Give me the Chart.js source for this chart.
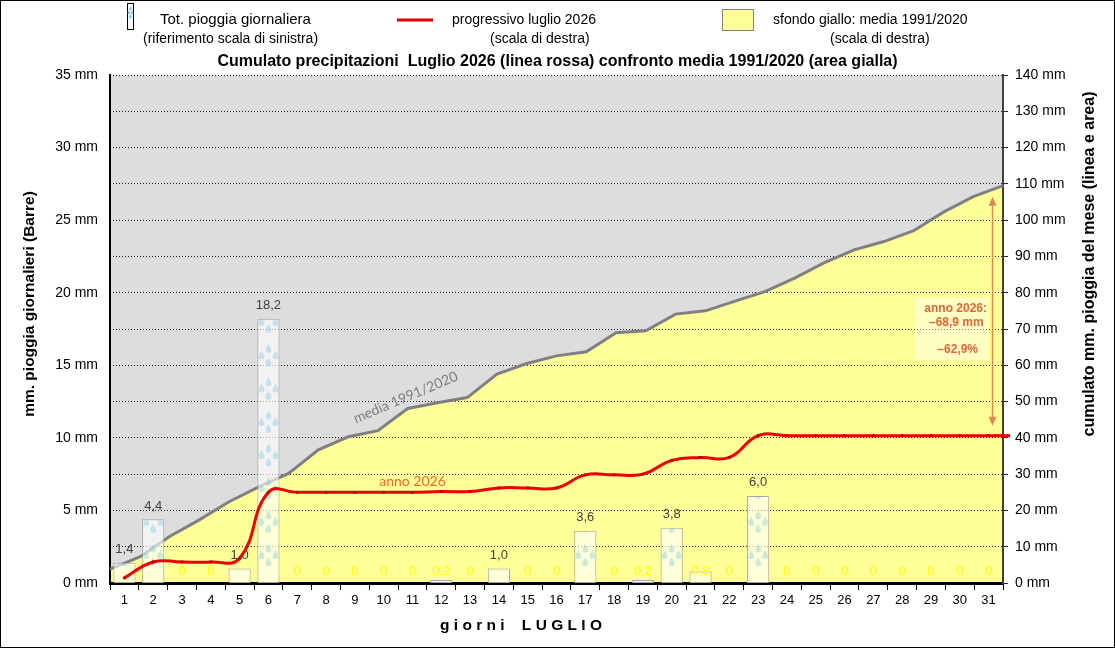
<!DOCTYPE html>
<html>
<head>
<meta charset="utf-8">
<script src="https://cdn.jsdelivr.net/npm/chart.js@4.4.1/dist/chart.umd.min.js"></script>
<style>
html,body{margin:0;padding:0;background:#fff;overflow:hidden}
#wrap{width:1115px;height:648px;position:relative}
</style>
</head>
<body>
<div id="wrap"><canvas id="c" width="1115" height="648"></canvas></div>
<script>
// ---------- DATA ----------
const days = ['1','2','3','4','5','6','7','8','9','10','11','12','13','14','15','16','17','18','19','20','21','22','23','24','25','26','27','28','29','30','31'];
const dailyRain = [1.4,4.4,0,0,1.0,18.2,0,0,0,0,0,0.2,0,1.0,0,0,3.6,0,0.2,3.8,0.8,0,6.0,0,0,0,0,0,0,0,0];
const cumulative2026 = [1.4,5.8,5.8,5.8,6.8,25.0,25.0,25.0,25.0,25.0,25.0,25.2,25.2,26.2,26.2,26.2,29.8,29.8,30.0,33.8,34.6,34.6,40.6,40.6,40.6,40.6,40.6,40.6,40.6,40.6,40.6];
const media19912020 = [3.8,7.2,12.8,17.4,22.4,26.5,30.2,36.7,40.3,42.0,48.1,49.7,51.1,57.6,60.5,62.6,63.7,69.0,69.5,74.1,75.0,77.7,80.3,84.0,88.3,91.8,94.1,97.1,102.2,106.5,109.5];
const leftAxis = {min:0, max:35, step:5, unit:' mm'};
const rightAxis = {min:0, max:140, step:10, unit:' mm'};

const titleText = 'Cumulato precipitazioni  Luglio 2026 (linea rossa) confronto media 1991/2020 (area gialla)';
const leftTitle = 'mm. pioggia giornalieri (Barre)';
const rightTitle = 'cumulato mm. pioggia del mese (linea e area)';
const xTitle = 'g i o r n i    L U G L I O';

const FONT = '"Liberation Sans", Arial, sans-serif';
Chart.defaults.font.family = FONT;
Chart.defaults.color = '#000';

function fmt(v){ return v === 0 ? '0' : v.toFixed(1).replace('.', ','); }

function drawDrop(ctx, x, y, r){
  ctx.beginPath();
  ctx.moveTo(x, y - r*2.1);
  ctx.bezierCurveTo(x + r*0.35, y - r*1.3, x + r, y - r*0.7, x + r, y);
  ctx.arc(x, y, r, 0, Math.PI, false);
  ctx.bezierCurveTo(x - r, y - r*0.7, x - r*0.35, y - r*1.3, x, y - r*2.1);
  ctx.closePath();
  ctx.fill();
}

const decor = {
  id: 'decor',
  afterDatasetDraw(chart, args){
    if (args.index !== 2) return;
    const ctx = chart.ctx;
    const meta = chart.getDatasetMeta(2);
    // raindrop texture inside bars
    meta.data.forEach(bar => {
      const p = bar.getProps(['x','y','base','width'], true);
      const h = p.base - p.y;
      if (h < 1) return;
      ctx.save();
      ctx.beginPath();
      ctx.rect(p.x - p.width/2 + 1, p.y + 1, p.width - 2, h - 1);
      ctx.clip();
      ctx.fillStyle = 'rgba(130,200,225,0.4)';
      for (let k = 1; k < 40; k++){
        const cy = p.base - 33.3*k;
        if (cy + 20 < p.y) break;
        drawDrop(ctx, p.x, cy, 2.9);
        drawDrop(ctx, p.x - 7, cy + 6.5, 2.9);
        drawDrop(ctx, p.x + 7, cy + 6.5, 2.9);
        drawDrop(ctx, p.x, cy + 13.5, 2.9);
      }
      ctx.restore();
    });
    // value labels
    const y0 = chart.scales.y.getPixelForValue(0);
    ctx.save();
    ctx.textAlign = 'center';
    ctx.textBaseline = 'middle';
    ctx.font = '13px ' + FONT;
    meta.data.forEach((bar, i) => {
      const v = dailyRain[i];
      if (v >= 1){
        ctx.fillStyle = '#404040';
        ctx.fillText(fmt(v), bar.x, bar.y - 13);
      } else {
        ctx.fillStyle = '#FFFF00';
        ctx.fillText(fmt(v), bar.x, y0 - 12);
      }
    });
    ctx.restore();
  },
  afterDatasetsDraw(chart){
    const ctx = chart.ctx;
    const x = chart.scales.x, x2 = chart.scales.x2, y2 = chart.scales.y2;
    const area = chart.chartArea;
    const last = days.length - 1;
    // red line continues to the right border
    ctx.save();
    ctx.strokeStyle = '#EE0000';
    ctx.lineWidth = 3;
    const yl = y2.getPixelForValue(cumulative2026[last]);
    ctx.beginPath(); ctx.moveTo(x.getPixelForValue(last), yl); ctx.lineTo(area.right + 7, yl); ctx.stroke();
    ctx.restore();
    // media label
    ctx.save();
    ctx.font = '14px Lato, "Open Sans", sans-serif';
    ctx.fillStyle = '#7F7F7F';
    ctx.textAlign = 'center';
    ctx.textBaseline = 'middle';
    ctx.translate(x2.getPixelForValue(10) - 2, y2.getPixelForValue(media19912020[10]) - 11);
    ctx.rotate(-23 * Math.PI/180);
    ctx.fillText('media 1991/2020', 0, 0);
    ctx.restore();
    // anno 2026 label
    ctx.save();
    ctx.font = '14px Lato, "Open Sans", sans-serif';
    ctx.fillStyle = '#EE6A2A';
    ctx.textAlign = 'center';
    ctx.textBaseline = 'middle';
    ctx.fillText('anno 2026', x.getPixelForValue(10), y2.getPixelForValue(cumulative2026[10]) - 11);
    ctx.restore();
    // difference annotation
    const mEnd = media19912020[last], cEnd = cumulative2026[last];
    const diff = cEnd - mEnd;
    const pct = diff / mEnd * 100;
    const ax = area.right - 10.5;
    const yTop = y2.getPixelForValue(mEnd) + 11;
    const yBot = y2.getPixelForValue(cEnd) - 10;
    ctx.save();
    ctx.fillStyle = 'rgba(255,255,255,0.42)';
    ctx.fillRect(area.left + 805, 298, 73, 62);
    ctx.strokeStyle = '#DA8A55';
    ctx.fillStyle = '#DA8A55';
    ctx.lineWidth = 1.5;
    ctx.beginPath();
    ctx.moveTo(ax, yTop + 6); ctx.lineTo(ax, yBot - 6); ctx.stroke();
    ctx.beginPath(); ctx.moveTo(ax, yTop); ctx.lineTo(ax - 4, yTop + 9); ctx.lineTo(ax + 4, yTop + 9); ctx.closePath(); ctx.fill();
    ctx.beginPath(); ctx.moveTo(ax, yBot); ctx.lineTo(ax - 4, yBot - 9); ctx.lineTo(ax + 4, yBot - 9); ctx.closePath(); ctx.fill();
    ctx.font = 'bold 12px ' + FONT;
    ctx.fillStyle = '#D9683A';
    ctx.textBaseline = 'middle';
    ctx.textAlign = 'right';
    ctx.fillText('anno 2026:', 987, 309);
    ctx.textAlign = 'left';
    ctx.fillText('\u2013' + Math.abs(diff).toFixed(1).replace('.', ',') + ' mm', 929, 323);
    ctx.textAlign = 'right';
    ctx.fillText('\u2013' + Math.abs(pct).toFixed(1).replace('.', ',') + '%', 978, 350);
    ctx.restore();
  },
  afterDraw(chart){
    const ctx = chart.ctx;
    ctx.save();
    // legend
    ctx.fillStyle = '#000';
    ctx.textBaseline = 'middle';
    ctx.textAlign = 'left';
    ctx.font = '15px ' + FONT;
    ctx.fillText('Tot. pioggia giornaliera', 160, 20);
    ctx.font = '14px ' + FONT;
    ctx.fillText('(riferimento scala di sinistra)', 143, 39);
    ctx.fillText('progressivo luglio 2026', 452, 20);
    ctx.fillText('(scala di destra)', 490, 39);
    ctx.fillText('sfondo giallo: media 1991/2020', 773, 20);
    ctx.fillText('(scala di destra)', 830, 39);
    // legend icon bars
    ctx.fillStyle = '#F4F8FA';
    ctx.fillRect(127, 3, 6, 26);
    ctx.strokeStyle = '#000';
    ctx.lineWidth = 1;
    ctx.strokeRect(127.5, 3.5, 6, 26);
    ctx.fillStyle = 'rgba(110,185,215,0.8)';
    drawDrop(ctx, 130.5, 9, 1.3);
    drawDrop(ctx, 128.8, 13, 1.3);
    drawDrop(ctx, 132.2, 13, 1.3);
    drawDrop(ctx, 130.5, 17, 1.3);
    // legend red line
    ctx.strokeStyle = '#E00000';
    ctx.lineWidth = 3;
    ctx.beginPath(); ctx.moveTo(397, 20); ctx.lineTo(433, 20); ctx.stroke();
    // legend yellow box
    ctx.fillStyle = '#FFFF99';
    ctx.fillRect(722, 9, 31, 21);
    ctx.strokeStyle = '#808080';
    ctx.lineWidth = 1;
    ctx.strokeRect(722.5, 9.5, 31, 21);
    // axis titles
    ctx.fillStyle = '#000';
    ctx.textAlign = 'center';
    ctx.textBaseline = 'middle';
    ctx.save();
    ctx.font = 'bold 15.5px ' + FONT;
    ctx.translate(30, 304); ctx.rotate(-Math.PI/2); ctx.fillText(leftTitle, 0, 0);
    ctx.restore();
    ctx.save();
    ctx.font = 'bold 16px ' + FONT;
    ctx.translate(1090, 264); ctx.rotate(-Math.PI/2); ctx.fillText(rightTitle, 0, 0);
    ctx.restore();
    ctx.font = 'bold 15.5px ' + FONT;
    ctx.fillText(xTitle, 521, 626);
    // outer frame
    ctx.strokeStyle = '#000';
    ctx.lineWidth = 1;
    ctx.strokeRect(0.5, 0.5, chart.width - 1, chart.height - 1);
    ctx.restore();
  }
};

new Chart(document.getElementById('c'), {
  type: 'bar',
  data: {
    labels: days,
    datasets: [
      { type:'line', label:'sfondo grigio', data: media19912020, xAxisID:'x2', yAxisID:'y2',
        fill:'end', backgroundColor:'#DDDDDD', borderWidth:0, borderColor:'rgba(0,0,0,0)', pointRadius:0, tension:0, order:4 },
      { type:'line', label:'sfondo giallo: media 1991/2020', data: media19912020, xAxisID:'x2', yAxisID:'y2',
        fill:'origin', backgroundColor:'#FFFF99', borderColor:'#808080', borderWidth:3, pointRadius:0, tension:0, order:3 },
      { type:'bar', label:'Tot. pioggia giornaliera', data: dailyRain, xAxisID:'x', yAxisID:'y',
        backgroundColor:'rgba(255,255,255,0.62)', borderColor:'#A6A6A6', borderWidth:1,
        grouped:false, categoryPercentage:1.0, barPercentage:0.77, order:2 },
      { type:'line', label:'progressivo luglio 2026', data: cumulative2026, xAxisID:'x', yAxisID:'y2',
        borderColor:'#EE0000', borderWidth:3, pointRadius:1.6, pointBorderWidth:0, pointBackgroundColor:'#B00000',
        tension:0.45, fill:false, order:1 }
    ]
  },
  options: {
    responsive: false,
    animation: false,
    events: [],
    layout: { padding: 0 },
    plugins: {
      legend: { display:false },
      tooltip: { enabled:false },
      filler: { drawTime:'beforeDraw' },
      title: { display:true, text: titleText, color:'#000',
               font:{ size:16, weight:'bold', family: FONT }, padding:{ top:52.4, bottom:3.4 } }
    },
    scales: {
      x: { type:'category', position:'bottom', offset:true,
           grid:{ display:true, drawOnChartArea:false, offset:true, tickLength:7, color:'#000', lineWidth:1 },
           border:{ color:'#000', width:3 },
           ticks:{ color:'#000', font:{ size:13 }, padding:3, maxRotation:0, autoSkip:false },
           afterFit(s){ s.height = 65; } },
      x2: { type:'category', labels: days, display:false, offset:false },
      y: { position:'left', min:leftAxis.min, max:leftAxis.max,
           ticks:{ stepSize:leftAxis.step, callback:v => v + leftAxis.unit, color:'#000', font:{ size:14 }, padding:4 },
           grid:{ display:false },
           border:{ color:'#000', width:2 },
           afterFit(s){ s.width = 110; } },
      y2: { position:'right', min:rightAxis.min, max:rightAxis.max,
            ticks:{ stepSize:rightAxis.step, callback:v => v + rightAxis.unit, color:'#000', font:{ size:14 }, padding:7 },
            grid:{ color:'rgba(0,0,0,0.85)', lineWidth:1, tickLength:5 },
            border:{ color:'#404040', width:2, dash:[1,2] },
            afterFit(s){ s.width = 112; } }
    }
  },
  plugins: [decor]
});
</script>
</body>
</html>
